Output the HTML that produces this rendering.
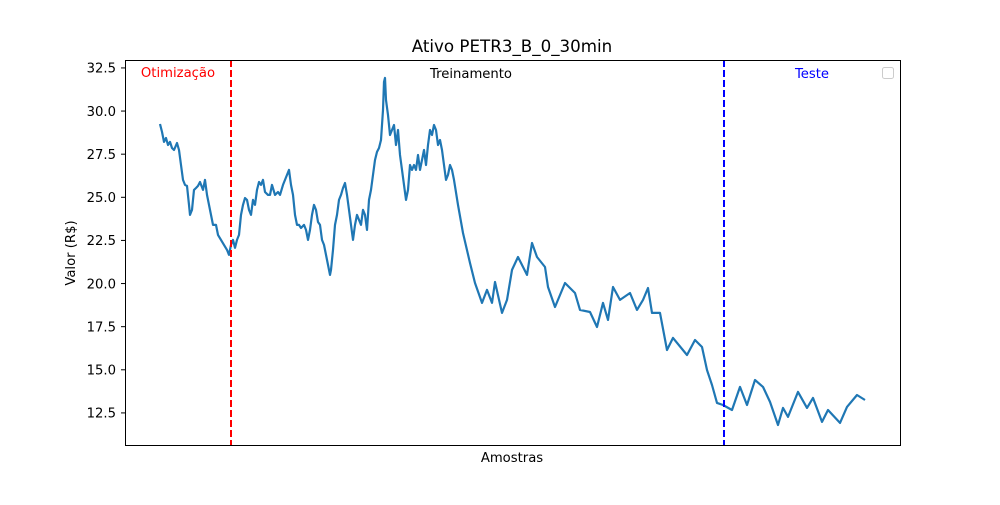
<!DOCTYPE html>
<html><head><meta charset="utf-8"><style>
body{margin:0;background:#fff;}
svg text{font-family:"DejaVu Sans","Liberation Sans",sans-serif;}
</style></head><body>
<svg id="chart" width="1000" height="500" xmlns="http://www.w3.org/2000/svg">
<rect width="1000" height="500" fill="#fff"/>
<text x="512" y="52" font-size="16.7" text-anchor="middle">Ativo PETR3_B_0_30min</text>
<g id="yticks"></g>
<path id="series" fill="none" stroke="#1f77b4" stroke-width="2.2" stroke-linejoin="round"/>
<line id="redline" stroke="red" stroke-width="2" stroke-dasharray="7,3"/>
<line id="blueline" stroke="blue" stroke-width="2" stroke-dasharray="7,3"/>
<rect x="125.5" y="60.5" width="775" height="385" fill="none" stroke="#000" stroke-width="1"/>
<text x="178" y="77" font-size="13.2" fill="red" text-anchor="middle">Otimização</text>
<text x="471" y="78" font-size="13.2" text-anchor="middle">Treinamento</text>
<text x="812" y="78" font-size="13.2" fill="blue" text-anchor="middle">Teste</text>
<rect x="882.5" y="67.5" width="11" height="11" rx="2" fill="#fff" stroke="#ccc"/>
<text transform="translate(75,253) rotate(-90)" font-size="13.2" text-anchor="middle">Valor (R$)</text>
<text x="512" y="462" font-size="13.2" text-anchor="middle">Amostras</text>
</svg>
<script>
const samples=[0,2,4,6,8,10,12,14,17,19,21,23,25,27,29,30,32,34,36,38,40,43,45,47,50,53,56,58,61,64,67,69,71,73,75,77,79,81,83,85,87,89,91,93,95,97,99,101,103,105,108,110,112,115,118,120,123,125,127,129,131,133,135,137,139,141,144,146,148,150,152,154,156,158,160,162,164,166,168,170,171,173,175,177,179,181,183,185,187,189,191,193,195,197,199,201,203,205,207,209,211,213,215,217,219,221,223,224,225,226,228,230,232,234,236,238,240,242,244,246,248,250,252,254,256,258,260,262,264,266,268,270,272,274,276,278,280,282,284,286,288,290,292,294,298,303,310,315,322,327,332,335,342,347,352,358,367,372,377,385,388,395,405,415,420,430,437,443,448,453,460,470,477,483,488,492,500,507,513,527,535,542,547,552,557,563,572,580,587,595,603,610,618,623,628,638,647,653,662,668,680,687,697,705];
const values=[29.25,28.79,28.21,28.44,28.03,28.21,27.86,27.74,28.15,27.74,26.87,26.01,25.72,25.66,24.56,23.98,24.27,25.43,25.54,25.66,25.89,25.43,26.01,25.14,24.27,23.40,23.40,22.82,22.53,22.24,21.95,21.66,22.24,22.53,22.07,22.53,22.82,23.98,24.56,24.96,24.85,24.27,23.98,24.85,24.56,25.43,25.89,25.72,26.01,25.31,25.14,25.14,25.72,25.14,25.31,25.14,25.72,26.01,26.30,26.59,25.72,25.14,23.98,23.40,23.40,23.22,23.40,23.11,22.53,23.11,23.98,24.56,24.27,23.57,23.40,22.53,22.24,21.66,21.08,20.50,20.79,21.95,23.40,23.98,24.85,25.14,25.54,25.83,25.14,24.27,23.40,22.53,23.40,23.98,23.69,23.40,24.27,23.98,23.11,24.85,25.43,26.30,27.16,27.63,27.86,28.32,30.06,31.69,31.92,30.64,29.77,28.61,28.90,29.19,28.03,28.90,27.45,26.59,25.72,24.85,25.43,26.87,26.59,26.87,26.59,27.45,26.59,27.16,27.74,26.87,28.03,28.90,28.61,29.19,28.90,28.03,28.32,27.74,26.87,26.01,26.30,26.87,26.59,26.01,24.56,22.93,21.19,20.03,18.88,19.63,18.88,20.09,18.30,19.05,20.79,21.54,20.50,22.35,21.54,20.96,19.80,18.64,20.03,19.45,18.47,18.35,17.48,18.88,17.89,19.80,19.05,19.45,18.47,19.05,19.74,18.30,18.30,16.15,16.85,15.86,16.73,16.32,14.99,14.12,13.08,12.96,12.67,14.01,12.96,14.41,14.01,13.14,11.80,12.79,12.27,13.72,12.79,13.37,11.98,12.67,11.92,12.85,13.54,13.25];
const yTicks=[12.5,15.0,17.5,20.0,22.5,25.0,27.5,30.0,32.5];
const splitSamples=[71,564];
const X0=125,X1=900,Y0=445,Y1=60;
const xDom=[-35,740], yDom=[10.64,32.96];
const xs=v=>X0+(v-xDom[0])/(xDom[1]-xDom[0])*(X1-X0);
const ys=v=>Y0-(v-yDom[0])/(yDom[1]-yDom[0])*(Y0-Y1);
const NS="http://www.w3.org/2000/svg";
let d="";
samples.forEach((s,i)=>{d+=(i?"L":"M")+xs(s).toFixed(1)+","+ys(values[i]).toFixed(1);});
document.getElementById('series').setAttribute('d',d);
const g=document.getElementById('yticks');
yTicks.forEach(t=>{
 const y=ys(t);
 const l=document.createElementNS(NS,'line');
 
 
 l.setAttribute('x1',X0-4);l.setAttribute('x2',X0);l.setAttribute('y1',y);l.setAttribute('y2',y);l.setAttribute('stroke','#000');
 g.appendChild(l);
 const tx=document.createElementNS(NS,'text');
 
 
 tx.setAttribute('x',X0-9);tx.setAttribute('y',y+4.8);tx.setAttribute('font-size','13.2');tx.setAttribute('text-anchor','end');
 tx.textContent=t.toFixed(1);
 g.appendChild(tx);
});
[['redline',splitSamples[0]],['blueline',splitSamples[1]]].forEach(([id,s])=>{
 const l=document.getElementById(id);const x=xs(s);
 l.setAttribute('x1',x);l.setAttribute('x2',x);l.setAttribute('y1',Y1);l.setAttribute('y2',Y0);
});
</script>
</body></html>
